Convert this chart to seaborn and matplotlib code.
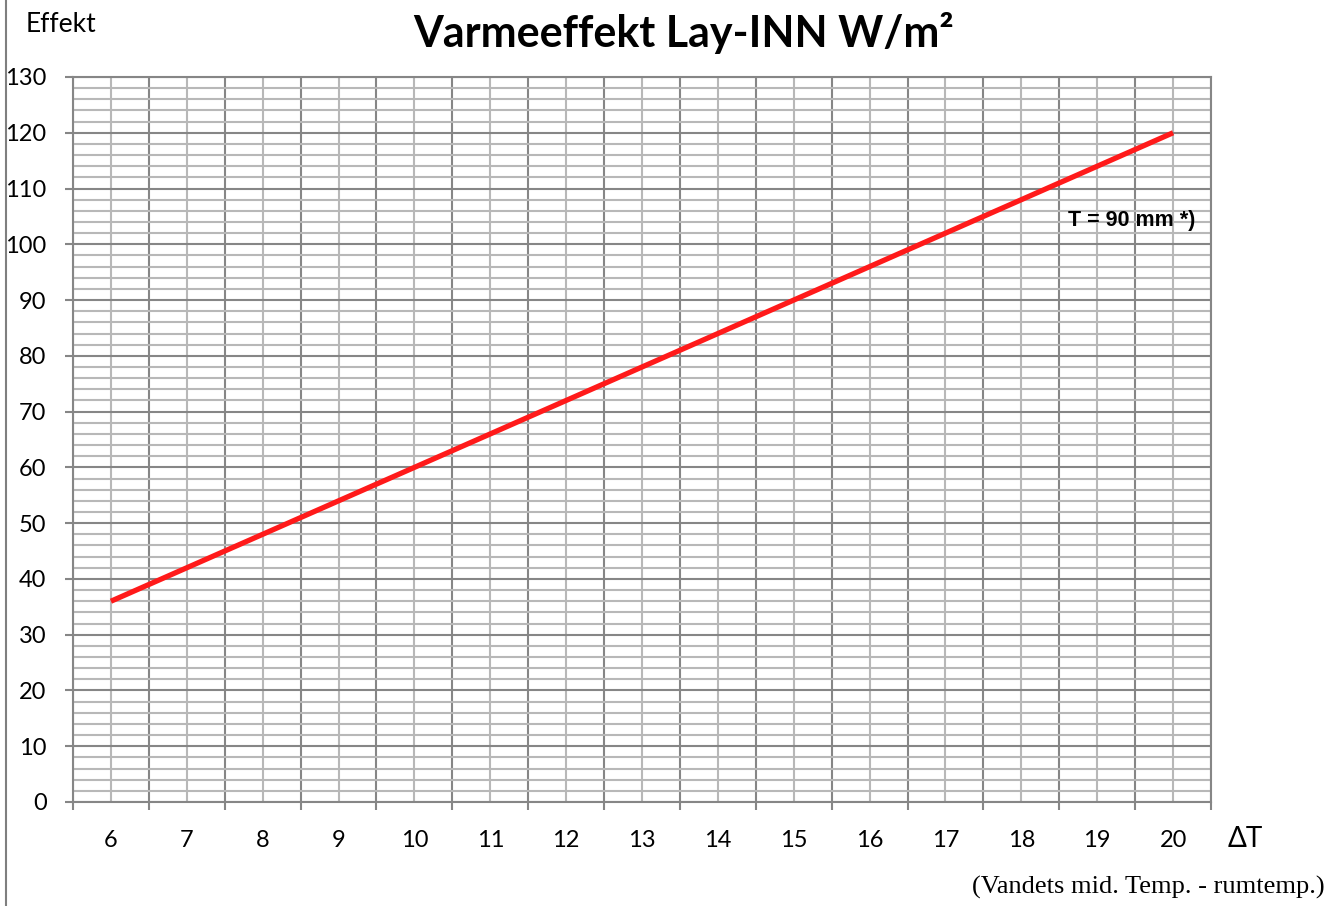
import matplotlib
matplotlib.use("Agg")
import matplotlib.pyplot as plt
import seaborn as sns
import pandas as pd
from matplotlib.lines import Line2D

# --- Data ---
delta_t = [6, 7, 8, 9, 10, 11, 12, 13, 14, 15, 16, 17, 18, 19, 20]
effekt = [36, 42, 48, 54, 60, 66, 72, 78, 84, 90, 96, 102, 108, 114, 120]
y_ticks = list(range(0, 131, 10))

df = pd.DataFrame({"dT": delta_t, "W": effekt})

sns.set_style("white")
plt.rcParams["font.family"] = ["Lato", "DejaVu Sans"]
plt.rcParams["text.color"] = "black"
plt.rcParams["xtick.color"] = "black"
plt.rcParams["ytick.color"] = "black"

fig = plt.figure(figsize=(13.4, 9.06), dpi=100)
ax = fig.add_axes([73 / 1340, 1 - 802 / 906, (1211 - 73) / 1340, (802 - 77) / 906])

sns.lineplot(data=df, x="dT", y="W", color="#ff1a1a", linewidth=3.8, ax=ax,
             solid_capstyle="butt", zorder=5)

ax.set_xlim(delta_t[0] - 0.5, delta_t[-1] + 0.5)
ax.set_ylim(0, 130)

# gridlines: major at category edges / every 10, minor at category centres / every 2
ax.set_xticks([d - 0.5 for d in delta_t] + [delta_t[-1] + 0.5])
ax.set_xticklabels([])
ax.set_xticks(delta_t, minor=True)
ax.set_xticklabels([str(d) for d in delta_t], minor=True)
ax.set_yticks(y_ticks)
ax.set_yticklabels([str(v) for v in y_ticks])
ax.set_yticks(range(0, 131, 2), minor=True)

ax.grid(True, which="major", color="#868686", linewidth=1.5)
ax.grid(True, which="minor", color="#b8b8b8", linewidth=1.5)
ax.set_axisbelow(True)

ax.tick_params(axis="x", which="major", direction="out", length=6, width=1.5,
               color="#868686", bottom=True)
ax.tick_params(axis="x", which="minor", length=0, pad=20, labelsize=17)
ax.tick_params(axis="y", which="major", direction="out", length=6, width=1.5,
               color="#868686", left=True, pad=13, labelsize=17)
ax.tick_params(axis="y", which="minor", length=0)

for s in ax.spines.values():
    s.set_color("#868686")
    s.set_linewidth(1.5)

ax.set_xlabel("")
ax.set_ylabel("")

ax.text(20.3, 104.3, "T = 90 mm *)", ha="right", va="center", fontsize=15.5,
        fontweight="bold", family="Liberation Sans", zorder=6)

fig.text(684 / 1340, 1 - 33 / 906, "Varmeeffekt Lay-INN W/m²", ha="center",
         va="center", fontsize=31, fontweight="bold")
fig.text(26 / 1340, 1 - 24 / 906, "Effekt", ha="left", va="center", fontsize=19)
fig.text(1228 / 1340, 1 - 839 / 906, "ΔT", ha="left", va="center", fontsize=20)
fig.text(1325 / 1340, 1 - 887 / 906, "(Vandets mid. Temp. - rumtemp.)", ha="right",
         va="center", fontsize=19, family="Liberation Serif")

# left frame line of the original image
fig.add_artist(Line2D([5.5 / 1340, 5.5 / 1340], [0, 1], color="#7f7f7f", linewidth=1.5))

fig.savefig("out.png", dpi=100)
